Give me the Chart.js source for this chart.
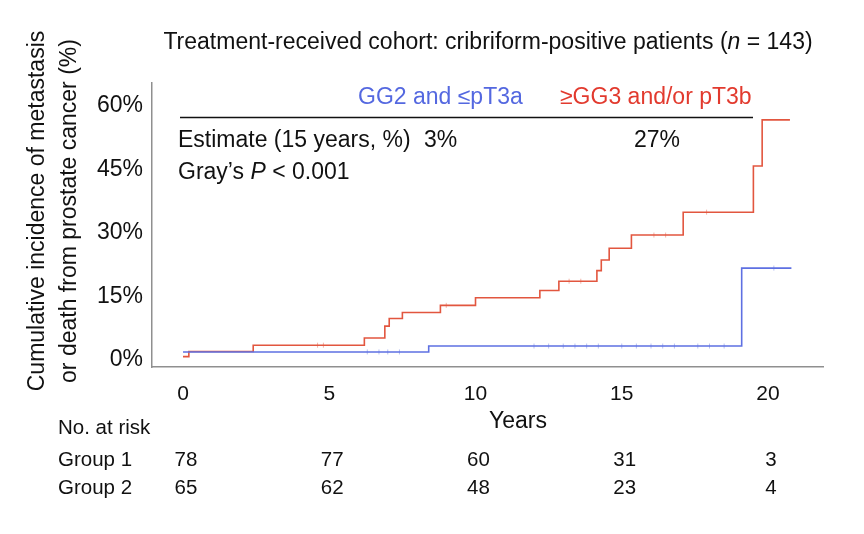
<!DOCTYPE html>
<html>
<head>
<meta charset="utf-8">
<script src="https://cdn.jsdelivr.net/npm/chart.js@4.4.1/dist/chart.umd.min.js"></script>
<style>
  html, body { margin: 0; padding: 0; background: #fff; }
  #wrap { width: 864px; height: 534px; }
</style>
</head>
<body>
<div id="wrap"><canvas id="chart" width="864" height="534"></canvas></div>
<script>
// Step curves (years, cumulative incidence %)
const group1Times = [0, 8.4, 19.1, 20.8];
const group1Values = [1.9, 3.3, 21.7, 21.7];
const group2Times = [0, 0.2, 2.4, 6.2, 6.9, 7.05, 7.5, 8.8, 10.0, 12.2, 12.85, 14.15, 14.3, 14.57, 15.33, 17.1, 19.5, 19.8, 20.75];
const group2Values = [0.8, 2.0, 3.5, 5.2, 8.0, 9.8, 11.2, 12.9, 14.7, 16.4, 18.6, 21.1, 23.6, 26.4, 29.5, 34.9, 45.8, 56.7, 56.7];

// censor marks
const group1CensorTimes = [6.3, 6.7, 7.0, 7.4, 12.0, 12.5, 13.0, 13.4, 13.8, 14.2, 15.0, 15.5, 16.0, 16.4, 16.8, 17.6, 18.0, 18.5, 20.2];
const group1CensorValues = [1.9, 1.9, 1.9, 1.9, 3.3, 3.3, 3.3, 3.3, 3.3, 3.3, 3.3, 3.3, 3.3, 3.3, 3.3, 3.3, 3.3, 3.3, 21.7];
const group2CensorTimes = [4.6, 4.8, 9.0, 13.2, 13.6, 16.1, 16.5, 17.9];
const group2CensorValues = [3.5, 3.5, 12.9, 18.6, 18.6, 29.5, 29.5, 34.9];

const xTicks = [0, 5, 10, 15, 20];
const yTicks = [0, 15, 30, 45, 60];

const riskTimes = [0, 5, 10, 15, 20];
const riskGroup1 = [78, 77, 60, 31, 3];
const riskGroup2 = [65, 62, 48, 23, 4];

const estimate1 = "3%";
const estimate2 = "27%";

const blueLine = "#5e70e2";
const redLine = "#e2563f";
const blueText = "#5468e0";
const redText = "#e23a2e";
const FONT = '"Liberation Sans", Arial, Helvetica, sans-serif';

function toPoints(xs, ys) {
  return xs.map((x, i) => ({ x: x, y: ys[i] }));
}

// Text, legend line and risk table
const annotations = {
  id: "annotations",
  afterDraw(chart) {
    const c = chart.ctx;
    const xs = chart.scales.x;
    c.save();
    c.fillStyle = "#111";
    c.textBaseline = "alphabetic";

    // title with italic n
    const t1 = "Treatment-received cohort: cribriform-positive patients (";
    const t3 = " = 143)";
    c.font = "23px " + FONT;
    const w1 = c.measureText(t1).width;
    const w3 = c.measureText(t3).width;
    c.font = "italic 23px " + FONT;
    const w2 = c.measureText("n").width;
    const tx = 488 - (w1 + w2 + w3) / 2;
    c.textAlign = "left";
    c.font = "23px " + FONT;
    c.fillText(t1, tx, 49);
    c.font = "italic 23px " + FONT;
    c.fillText("n", tx + w1, 49);
    c.font = "23px " + FONT;
    c.fillText(t3, tx + w1 + w2, 49);

    // y axis title, two lines
    c.save();
    c.font = "23px " + FONT;
    c.textAlign = "center";
    c.textBaseline = "middle";
    c.translate(38, 211);
    c.rotate(-Math.PI / 2);
    c.fillText("Cumulative incidence of metastasis", 0, 0);
    c.fillText("or death from prostate cancer (%)", 0, 32);
    c.restore();

    // group legend
    c.font = "23px " + FONT;
    c.textAlign = "left";
    c.fillStyle = blueText;
    c.fillText("GG2 and \u2264pT3a", 358, 104);
    c.fillStyle = redText;
    c.fillText("\u2265GG3 and/or pT3b", 560, 104);

    c.strokeStyle = "#111";
    c.lineWidth = 1.5;
    c.beginPath();
    c.moveTo(180, 117.5);
    c.lineTo(753, 117.5);
    c.stroke();

    // estimates
    c.fillStyle = "#111";
    c.fillText("Estimate (15 years, %)", 178, 147);
    c.fillText(estimate1, 424, 147);
    c.fillText(estimate2, 634, 147);

    c.fillText("Gray\u2019s ", 178, 179);
    let gx = 178 + c.measureText("Gray\u2019s ").width;
    c.font = "italic 23px " + FONT;
    c.fillText("P", gx, 179);
    gx += c.measureText("P").width;
    c.font = "23px " + FONT;
    c.fillText(" < 0.001", gx, 179);

    // x axis title
    c.textAlign = "center";
    c.fillText("Years", 518, 428);

    // risk table
    c.font = "20.5px " + FONT;
    c.textAlign = "left";
    c.fillText("No. at risk", 58, 434);
    c.fillText("Group 1", 58, 466);
    c.fillText("Group 2", 58, 494);
    c.textAlign = "center";
    riskTimes.forEach((t, i) => {
      const px = xs.getPixelForValue(t) + 3;
      c.fillText(String(riskGroup1[i]), px, 466);
      c.fillText(String(riskGroup2[i]), px, 494);
    });
    c.restore();
  }
};

const ctx = document.getElementById("chart").getContext("2d");
const chart = new Chart(ctx, {
  type: "line",
  data: {
    datasets: [
      {
        label: "GG2 and \u2264pT3a",
        data: toPoints(group1Times, group1Values),
        borderColor: blueLine,
        borderWidth: 1.6,
        stepped: "before",
        pointRadius: 0,
        fill: false,
      },
      {
        label: "\u2265GG3 and/or pT3b",
        data: toPoints(group2Times, group2Values),
        borderColor: redLine,
        borderWidth: 1.6,
        stepped: "before",
        pointRadius: 0,
        fill: false,
      },
      {
        label: "censor1",
        data: toPoints(group1CensorTimes, group1CensorValues),
        showLine: false,
        pointStyle: "line",
        rotation: 90,
        pointRadius: 2.5,
        borderColor: "rgba(94,112,226,0.45)",
        borderWidth: 1,
      },
      {
        label: "censor2",
        data: toPoints(group2CensorTimes, group2CensorValues),
        showLine: false,
        pointStyle: "line",
        rotation: 90,
        pointRadius: 2.5,
        borderColor: "rgba(226,86,63,0.45)",
        borderWidth: 1,
      },
    ],
  },
  options: {
    responsive: false,
    animation: false,
    layout: { padding: { left: 0, top: 83, right: 41, bottom: 0 } },
    plugins: {
      legend: { display: false },
      tooltip: { enabled: false },
    },
    scales: {
      x: {
        type: "linear",
        min: -1.06,
        max: 21.88,
        afterFit: (s) => { s.height = 167; },
        afterBuildTicks: (s) => { s.ticks = xTicks.map((v) => ({ value: v })); },
        grid: { display: false, drawTicks: false },
        border: { display: true, color: "#8f8f8f", width: 1.5 },
        ticks: {
          padding: 15,
          color: "#111",
          font: { family: FONT, size: 21 },
          maxRotation: 0,
        },
      },
      y: {
        min: -1.65,
        max: 65.4,
        afterFit: (s) => { s.width = 152; },
        afterBuildTicks: (s) => { s.ticks = yTicks.map((v) => ({ value: v })); },
        grid: { display: false, drawTicks: false },
        border: { display: true, color: "#8f8f8f", width: 1.5 },
        ticks: {
          padding: 9,
          color: "#111",
          font: { family: FONT, size: 23 },
          callback: (v) => v + "%",
        },
      },
    },
  },
  plugins: [annotations],
});
</script>
</body>
</html>
